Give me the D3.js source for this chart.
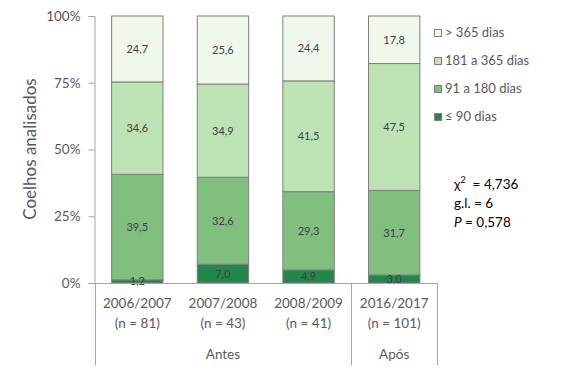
<!DOCTYPE html>
<html><head><meta charset="utf-8">
<script src="https://cdn.jsdelivr.net/npm/d3@7"></script>
<style>body{margin:0;background:#fff}svg{display:block;font-family:Lato,"Open Sans",sans-serif}</style>
</head><body><svg id="c" width="568" height="371"></svg>
<script>
const years = ["2006/2007","2007/2008","2008/2009","2016/2017"];
const nLabels = ["(n = 81)","(n = 43)","(n = 41)","(n = 101)"];
const seriesNames = ["≤ 90 dias","91 a 180 dias","181 a 365 dias","> 365 dias"];
const le90 = [1.2, 7.0, 4.9, 3.0];
const d91 = [39.5, 32.6, 29.3, 31.7];
const d181 = [34.6, 34.9, 41.5, 47.5];
const gt365 = [24.7, 25.6, 24.4, 17.8];
const yTicks = [0, 25, 50, 75, 100];
const groups = [{name:"Antes", from:0, to:2},{name:"Após", from:3, to:3}];
const colors = ["#22874a","#80bf7e","#bde3b5","#f0f7ec"];

const svg = d3.select("#c");
const x = d3.scaleBand().domain(years).range([94.5, 437]).paddingInner(0.4).paddingOuter(0.2);
const y = d3.scaleLinear().domain([0, 100]).range([283, 16]);
const seriesVals = [le90, d91, d181, gt365];
const rows = years.map((yr,i)=>{const o={year:yr}; seriesNames.forEach((s,j)=>o[s]=seriesVals[j][i]); return o;});
const stack = d3.stack().keys(seriesNames)(rows);

const axisColor = "#a6a6a6", textColor = "#595959";

// bars
stack.forEach((layer,j)=>{
  svg.append("g").selectAll("rect").data(layer).join("rect")
    .attr("x", d=>x(d.data.year)).attr("width", x.bandwidth())
    .attr("y", d=>y(Math.min(d[1],100))).attr("height", d=>y(d[0])-y(Math.min(d[1],100)))
    .attr("fill", colors[j]).attr("stroke", "#7f7f7f").attr("stroke-width", 1);
});
// labels
stack.forEach((layer,j)=>{
  svg.append("g").selectAll("text").data(layer).join("text")
    .attr("x", d=>x(d.data.year)+x.bandwidth()/2)
    .attr("y", d=>(y(d[0])+y(Math.min(d[1],100)))/2 + 4)
    .attr("text-anchor","middle").attr("font-size", 11).attr("fill", "#404040")
    .text(d=>d3.format(".1f")(d[1]-d[0]).replace(".", ","));
});

// y axis
const yAxis = svg.append("g").attr("transform","translate(94.5,0)")
  .call(d3.axisLeft(y).tickValues(yTicks).tickSize(6).tickFormat(d=>d+"%"));
yAxis.select(".domain").attr("stroke", axisColor);
yAxis.selectAll(".tick line").attr("stroke", axisColor);
yAxis.selectAll(".tick text").attr("fill", textColor).attr("font-size", 13.5).attr("font-family","Lato").attr("x",-14);

// x axis baseline
svg.append("line").attr("x1",88).attr("x2",437).attr("y1",283.5).attr("y2",283.5).attr("stroke",axisColor);
// group separators
const step = x.step();
const bounds = [x.range()[0], x(years[3]) - (x.paddingInner()*step)/2, x.range()[1]];
bounds.forEach(bx=>{
  svg.append("line").attr("x1",Math.round(bx)+0.5).attr("x2",Math.round(bx)+0.5).attr("y1",283).attr("y2",365).attr("stroke",axisColor);
});
// category labels
years.forEach((yr,i)=>{
  const cx = x(yr)+x.bandwidth()/2;
  svg.append("text").attr("x",cx).attr("y",308).attr("text-anchor","middle").attr("font-size",13.5).attr("fill",textColor).text(yr);
  svg.append("text").attr("x",cx).attr("y",328).attr("text-anchor","middle").attr("font-size",13.5).attr("fill",textColor).text(nLabels[i]);
});
groups.forEach(g=>{
  const cx = (x(years[g.from]) + x(years[g.to]) + x.bandwidth())/2;
  svg.append("text").attr("x",cx).attr("y",359).attr("text-anchor","middle").attr("font-size",13.5).attr("fill",textColor).text(g.name);
});

// y title
svg.append("text").attr("transform","translate(36,149) rotate(-90)").attr("text-anchor","middle")
  .attr("font-size",17).attr("fill",textColor).text("Coelhos analisados");

// legend
const legendOrder = [3,2,1,0];
legendOrder.forEach((j,k)=>{
  const ly = 37 + k*28;
  svg.append("rect").attr("x",434.5).attr("y",ly-7.5).attr("width",7).attr("height",7)
    .attr("fill",colors[j]).attr("stroke","#7f7f7f");
  svg.append("text").attr("x",445).attr("y",ly).attr("font-size",13).attr("fill",textColor).text(seriesNames[j]);
});

// stats
const st = svg.append("g").attr("font-size",13.5).attr("fill","#000");
const t1 = st.append("text").attr("x",454).attr("y",189);
t1.append("tspan").text("χ");
t1.append("tspan").attr("dy",-6).attr("font-size",9).text("2");
t1.append("tspan").attr("dy",6).text("  = 4,736").attr("xml:space","preserve");
st.append("text").attr("x",454).attr("y",208).text("g.l. = 6");
const t3 = st.append("text").attr("x",454).attr("y",227);
t3.append("tspan").attr("font-style","italic").text("P");
t3.append("tspan").text(" = 0,578");
</script></body></html>
